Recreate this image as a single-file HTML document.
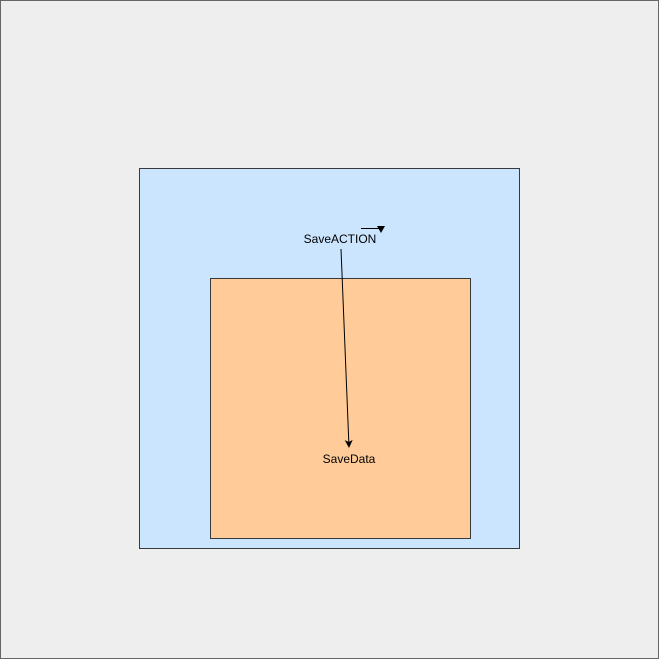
<!DOCTYPE html>
<html>
<head>
<meta charset="utf-8">
<style>
html,body{margin:0;padding:0;background:#eeeeee;}
svg{display:block;}
text{font-family:"Liberation Sans",Arial,sans-serif;font-size:12px;fill:#000;}
</style>
</head>
<body>
<svg width="659" height="659" viewBox="0 0 659 659">
  <defs>
    <marker id="ah" markerWidth="8" markerHeight="8" refX="7" refY="4" orient="auto" markerUnits="userSpaceOnUse">
      <path d="M0,0 L8,4 L0,8 L2,4 Z" fill="#000"/>
    </marker>
  </defs>
  <rect x="0.5" y="0.5" width="658" height="658" fill="#eeeeee" stroke="#666666" stroke-width="1"/>
  <rect x="139.5" y="168.5" width="380" height="380" fill="#cce5ff" stroke="#36393d" stroke-width="1"/>
  <rect x="210.5" y="278.5" width="260" height="260" fill="#ffcc99" stroke="#36393d" stroke-width="1"/>
  <text x="340" y="243" text-anchor="middle">SaveACTION</text>
  <text x="349" y="463" text-anchor="middle">SaveData</text>
  <line x1="341" y1="249" x2="349" y2="447" stroke="#000" stroke-width="1" marker-end="url(#ah)"/>
  <path d="M361,228.5 L381,228.5 L381,231" fill="none" stroke="#000" stroke-width="1"/>
  <path d="M377,226 L385,226 L381,233 Z" fill="#000"/>
</svg>
</body>
</html>
